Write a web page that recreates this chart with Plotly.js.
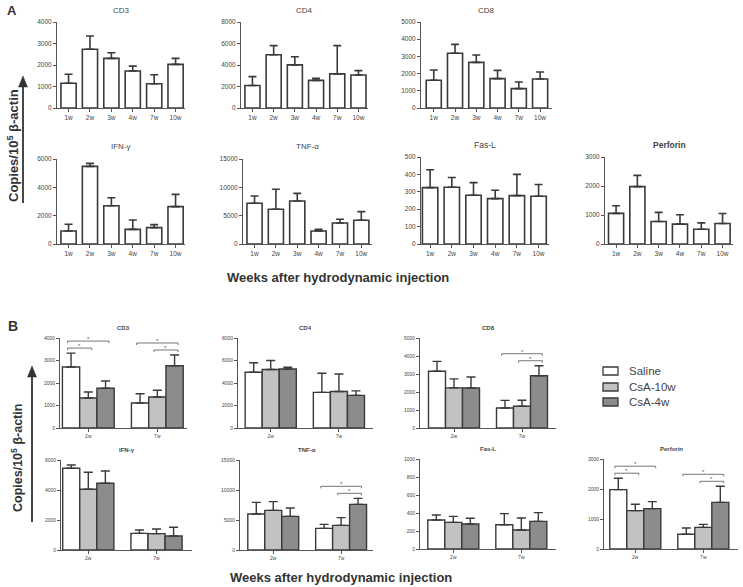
<!DOCTYPE html>
<html><head><meta charset="utf-8">
<script src="https://cdn.plot.ly/plotly-3.0.1.min.js"></script>
<style>html,body{margin:0;padding:0;background:#fff}#chart{width:743px;height:587px}</style>
</head><body><div id="chart"></div>
<script>
// ---------------- DATA ----------------
const weeksA = ['1w','2w','3w','4w','7w','10w'];
const weeksB = ['2w','7w'];
const seriesB = ['Saline','CsA-10w','CsA-4w'];
const markers = ['CD3','CD4','CD8','IFN-γ','TNF-α','Fas-L','Perforin'];

// Panel A: mean and SEM per week
const cd3A = [1150,2730,2310,1720,1130,2030];
const cd3ASem = [420,620,260,230,420,280];
const cd4A = [2100,4950,4010,2570,3170,3070];
const cd4ASem = [815,850,755,190,2630,410];
const cd8A = [1610,3180,2655,1705,1125,1685];
const cd8ASem = [600,520,425,485,390,405];
const ifnA = [920,5480,2705,1035,1155,2635];
const ifnASem = [470,210,565,660,210,870];
const tnfA = [7180,6120,7590,2290,3710,4180];
const tnfASem = [1290,3530,1350,295,650,1530];
const faslA = [324,326,280,261,278,274];
const faslASem = [103,56,73,48,122,68];
const perfA = [1055,1980,775,685,510,705];
const perfASem = [265,385,315,325,220,345];

// Panel B: [Saline, CsA-10w, CsA-4w] x [2w, 7w]
const cd3B = [[2710,1110],[1335,1380],[1765,2770]];
const cd3BSem = [[620,415],[265,295],[325,475]];
const cd4B = [[4950,3170],[5200,3250],[5250,2900]];
const cd4BSem = [[850,1700],[800,1550],[150,400]];
const cd8B = [[3150,1110],[2230,1205],[2220,2905]];
const cd8BSem = [[550,425],[500,335],[610,555]];
const ifnB = [[5445,1110],[4045,1090],[4445,935]];
const ifnBSem = [[220,220],[1135,310],[820,580]];
const tnfB = [[6000,3610],[6610,4110],[5610,7610]];
const tnfBSem = [[1945,665],[1445,1280],[1390,1000]];
const faslB = [[322,270],[296,211],[278,307]];
const faslBSem = [[56,123],[67,133],[63,97]];
const perfB = [[1980,490],[1280,720],[1345,1555]];
const perfBSem = [[380,210],[210,100],[235,535]];

// Significance brackets (panel B)
const sigMarker = ['CD3','CD3','CD3','CD3','CD8','CD8','TNF-α','TNF-α','Perforin','Perforin','Perforin','Perforin'];
const sigWeek   = ['2w','2w','7w','7w','7w','7w','7w','7w','2w','2w','7w','7w'];
const sigFrom   = [0,0,1,0,1,0,1,0,0,0,1,0];
const sigTo     = [1,2,2,2,2,2,2,2,1,2,2,2];
const sigLevel  = [1,2,1,2,1,2,1,2,1,2,1,2];

// ---------------- LAYOUT CONFIG ----------------
const W = 743, H = 587;
const FONT = 'Liberation Sans, Arial, sans-serif';
const fills = ['#ffffff','#c2c2c2','#8c8c8c'];
const edge = '#3a3a3a';

const dataA = [[cd3A,cd3ASem],[cd4A,cd4ASem],[cd8A,cd8ASem],[ifnA,ifnASem],[tnfA,tnfASem],[faslA,faslASem],[perfA,perfASem]];
const dataB = [[cd3B,cd3BSem],[cd4B,cd4BSem],[cd8B,cd8BSem],[ifnB,ifnBSem],[tnfB,tnfBSem],[faslB,faslBSem],[perfB,perfBSem]];

const cfgA = [
  {rect:[57,185,22,108],  ymax:4000,  dtick:1000, xr:[-0.54,5.44]},
  {rect:[241,368,22,108], ymax:8000,  dtick:2000, xr:[-0.54,5.45]},
  {rect:[421,552,22,108], ymax:5000,  dtick:1000, xr:[-0.6,5.56]},
  {rect:[57,185,159,244], ymax:6000,  dtick:2000, xr:[-0.54,5.44]},
  {rect:[243,372,159,244],ymax:15000, dtick:5000, xr:[-0.54,5.5]},
  {rect:[421,549,157,244],ymax:500,   dtick:100,  xr:[-0.42,5.48]},
  {rect:[605,733,157,244],ymax:3000,  dtick:1000, xr:[-0.52,5.49]}
];
const cfgB = [
  {rect:[60,187,338,428], ymax:4000,  dtick:1000, xr:[-0.41,1.43]},
  {rect:[238,373,338,428],ymax:8000,  dtick:2000, xr:[-0.48,1.5]},
  {rect:[420,556,338,428],ymax:5000,  dtick:1000, xr:[-0.5,1.5]},
  {rect:[61,192,460,550], ymax:6000,  dtick:2000, xr:[-0.4,1.52]},
  {rect:[240,373,460,550],ymax:15000, dtick:5000, xr:[-0.49,1.47]},
  {rect:[420,556,459,549],ymax:1000,  dtick:200,  xr:[-0.49,1.51]},
  {rect:[604,738,459,549],ymax:3000,  dtick:1000, xr:[-0.46,1.51]}
];

const traces = [];
const layout = {
  width: W, height: H, margin:{l:0,r:0,t:0,b:0},
  paper_bgcolor:'#fff', plot_bgcolor:'rgba(0,0,0,0)',
  showlegend:false, barmode:'overlay',
  font:{family:FONT, color:'#444'},
  annotations:[], shapes:[]
};

function axisPair(idx, c, tickSize, cats) {
  const [x0,x1,yt,yb] = c.rect;
  const xs = idx===1 ? '' : idx;
  layout['xaxis'+xs] = {
    domain:[x0/W, x1/W], anchor:'y'+xs, type:'category',
    categoryorder:'array', categoryarray:cats,
    range:c.xr, showline:true, linecolor:'#555', linewidth:1,
    ticks:'outside', ticklen:3, tickcolor:'#555', tickwidth:1,
    tickfont:{size:tickSize, color:'#444', family:FONT},
    showgrid:false, zeroline:false, fixedrange:true
  };
  layout['yaxis'+xs] = {
    domain:[1-yb/H, 1-yt/H], anchor:'x'+xs,
    range:[0,c.ymax], dtick:c.dtick, tick0:0, tickformat:'d',
    showline:true, linecolor:'#555', linewidth:1,
    ticks:'outside', ticklen:3, tickcolor:'#555', tickwidth:1,
    tickfont:{size:tickSize, color:'#444', family:FONT},
    showgrid:false, zeroline:false, fixedrange:true
  };
  return xs;
}

function title(text, c, dy, size, bold) {
  const [x0,x1,yt] = c.rect;
  layout.annotations.push({
    xref:'paper', yref:'paper', x:(x0+x1)/2/W, y:1-(yt-dy)/H,
    text: bold ? '<b>'+text+'</b>' : text, showarrow:false,
    xanchor:'center', yanchor:'middle', font:{size:size, color:'#444', family:FONT}
  });
}

// Panel A
cfgA.forEach((c,i) => {
  const xs = axisPair(i+1, c, 6.5, weeksA);
  const [mean, sem] = dataA[i];
  traces.push({
    type:'bar', x:weeksA, y:mean, xaxis:'x'+xs, yaxis:'y'+xs,
    width:0.71, marker:{color:'#fff', line:{color:edge, width:1.6}},
    error_y:{type:'data', array:sem, arrayminus:sem.map(()=>0), symmetric:false,
             color:edge, thickness:1.6, width:4},
    hoverinfo:'skip'
  });
  title(markers[i], c, 12, i>=5 ? 8.5 : 8, i===6);
});

// Panel B
const bw = 0.25;
cfgB.forEach((c,i) => {
  const xs = axisPair(i+8, c, 5, weeksB);
  const [means, sems] = dataB[i];
  seriesB.forEach((s,k) => {
    traces.push({
      type:'bar', name:s, x:weeksB, y:means[k], xaxis:'x'+xs, yaxis:'y'+xs,
      width:bw, offset:-1.5*bw + k*bw,
      marker:{color:fills[k], line:{color:edge, width:1.4}},
      error_y:{type:'data', array:sems[k], arrayminus:sems[k].map(()=>0), symmetric:false,
               color:edge, thickness:1.4, width:4.5},
      hoverinfo:'skip'
    });
  });
  title(markers[i], c, 10, 6, true);
});

// significance brackets
sigMarker.forEach((m,j) => {
  const i = markers.indexOf(m);
  const c = cfgB[i];
  const xs = 'x'+(i+8), ys = 'y'+(i+8);
  const g = weeksB.indexOf(sigWeek[j]);
  const [means, sems] = dataB[i];
  let top = 0;
  for (let k=0;k<3;k++) top = Math.max(top, means[k][g]+sems[k][g]);
  const perPx = c.ymax/(c.rect[3]-c.rect[2]);
  const y = top + (5 + 7*(sigLevel[j]-1))*perPx;
  const xa = g + (sigFrom[j]-1)*bw - 0.2*bw;
  const xb = g + (sigTo[j]-1)*bw + 0.2*bw;
  const d = 2*perPx;
  layout.shapes.push({
    type:'path', xref:xs, yref:ys,
    path:`M ${xa},${y-d} L ${xa},${y} L ${xb},${y} L ${xb},${y-d}`,
    line:{color:'#666', width:0.9}
  });
  layout.annotations.push({
    xref:xs, yref:ys, x:(xa+xb)/2, y:y, text:'*', showarrow:false,
    xanchor:'center', yanchor:'bottom', yshift:-3, font:{size:6, color:'#555', family:FONT}
  });
});

// Custom legend
const legY = [371,387,402];
seriesB.forEach((s,k) => {
  layout.shapes.push({type:'rect', xref:'paper', yref:'paper',
    x0:603/W, x1:618/W, y0:1-(legY[k]+4)/H, y1:1-(legY[k]-4)/H,
    fillcolor:fills[k], line:{color:edge, width:1.3}});
  layout.annotations.push({xref:'paper', yref:'paper', x:627/W, y:1-legY[k]/H,
    text:s, showarrow:false, xanchor:'left', yanchor:'middle',
    font:{size:11.5, color:'#444', family:FONT}});
});

// Panel letters, axis titles, arrows
const big = (t,x,y,s,extra) => layout.annotations.push(Object.assign({xref:'paper', yref:'paper', x:x/W, y:1-y/H,
  xanchor:'center', yanchor:'middle',
  text:t, showarrow:false, font:{size:s, color:'#333', family:FONT}}, extra||{}));
big('<b>A</b>', 12, 10, 13);
big('<b>B</b>', 13, 326, 14);
big('<b>Weeks after hydrodynamic injection</b>', 338, 277, 13);
big('<b>Weeks after hydrodynamic injection</b>', 341, 577, 13);
big('<b>Copies/10<sup>5</sup> β-actin</b>', 13, 146, 13, {textangle:-90});
big('<b>Copies/10<sup>5</sup> β-actin</b>', 17, 458, 12.5, {textangle:-90});
[[23,76,203],[32,366,522]].forEach(([x,yh,yt]) => {
  layout.shapes.push({type:'line', xref:'paper', yref:'paper',
    x0:x/W, x1:x/W, y0:1-yt/H, y1:1-(yh+8)/H, line:{color:'#333', width:1.8}});
  layout.shapes.push({type:'path', xref:'paper', yref:'paper',
    path:`M ${(x-4.5)/W},${1-(yh+11)/H} L ${x/W},${1-yh/H} L ${(x+4.5)/W},${1-(yh+11)/H} Z`,
    fillcolor:'#333', line:{color:'#333', width:0.5}});
});

Plotly.newPlot('chart', traces, layout, {staticPlot:true, displayModeBar:false});
</script></body></html>
